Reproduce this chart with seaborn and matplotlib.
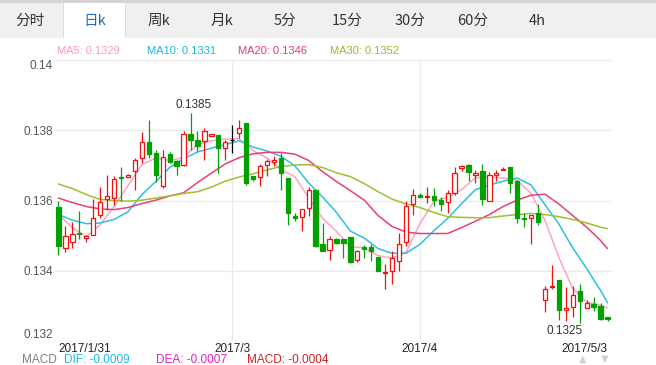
import matplotlib
matplotlib.use('Agg')
import matplotlib.pyplot as plt
import numpy as np
import pandas as pd
import seaborn as sns
from matplotlib.patches import Rectangle

# header tabs
tabs = ['分时', '日k', '周k', '月k', '5分', '15分', '30分', '60分', '4h']
active_tab = '日k'

# daily candles (index 0 = 2017/1/31 ... 79 = 2017/5/3)
opens = [0.13582, 0.13465, 0.13482, 0.13508, 0.13494, 0.13503, 0.13558, 0.13603, 0.13607, 0.13668,
         0.13668, 0.13683, 0.13721, 0.13767, 0.13735, 0.13640, 0.13731, 0.13712, 0.13700, 0.13789,
         0.13773, 0.13768, 0.13785, 0.13787, 0.13750, 0.13773, 0.13792, 0.13821, 0.13669, 0.13666,
         0.13702, 0.13709, 0.13721, 0.13664, 0.13555, 0.13553, 0.13579, 0.13631, 0.13477, 0.13458,
         0.13491, 0.13489, 0.13496, 0.13432, 0.13467, 0.13468, 0.13440, 0.13394, 0.13399, 0.13427,
         0.13481, 0.13590, 0.13615, 0.13610, 0.13614, 0.13601, 0.13596, 0.13622, 0.13693, 0.13702,
         0.13672, 0.13685, 0.13598, 0.13672, 0.13686, 0.13696, 0.13655, 0.13551, 0.13551, 0.13565,
         0.13318, 0.13353, 0.13373, 0.13288, 0.13297, 0.13342, 0.13294, 0.13304, 0.13299, 0.13268]
closes = [0.13470, 0.13498, 0.13505, 0.13505, 0.13498, 0.13551, 0.13596, 0.13614, 0.13662, 0.13664,
          0.13673, 0.13716, 0.13767, 0.13733, 0.13672, 0.13723, 0.13711, 0.13697, 0.13789, 0.13771,
          0.13756, 0.13799, 0.13786, 0.13750, 0.13767, 0.13773, 0.13805, 0.13650, 0.13662, 0.13699,
          0.13712, 0.13714, 0.13679, 0.13565, 0.13549, 0.13576, 0.13631, 0.13470, 0.13455, 0.13491,
          0.13479, 0.13479, 0.13424, 0.13455, 0.13463, 0.13457, 0.13399, 0.13397, 0.13437, 0.13477,
          0.13585, 0.13617, 0.13610, 0.13614, 0.13601, 0.13591, 0.13622, 0.13677, 0.13697, 0.13680,
          0.13679, 0.13605, 0.13674, 0.13677, 0.13691, 0.13650, 0.13551, 0.13548, 0.13560, 0.13538,
          0.13347, 0.13358, 0.13288, 0.13294, 0.13331, 0.13313, 0.13307, 0.13296, 0.13263, 0.13263]
highs = [0.13600, 0.13527, 0.13540, 0.13571, 0.13502, 0.13605, 0.13638, 0.13672, 0.13669, 0.13696,
         0.13676, 0.13721, 0.13794, 0.13830, 0.13745, 0.13745, 0.13739, 0.13716, 0.13799, 0.13850,
         0.13797, 0.13807, 0.13786, 0.13787, 0.13773, 0.13814, 0.13830, 0.13821, 0.13669, 0.13705,
         0.13718, 0.13726, 0.13735, 0.13664, 0.13565, 0.13577, 0.13639, 0.13631, 0.13536, 0.13498,
         0.13494, 0.13491, 0.13496, 0.13460, 0.13473, 0.13477, 0.13440, 0.13418, 0.13455, 0.13508,
         0.13598, 0.13633, 0.13620, 0.13639, 0.13636, 0.13610, 0.13629, 0.13696, 0.13702, 0.13705,
         0.13688, 0.13705, 0.13680, 0.13686, 0.13696, 0.13696, 0.13659, 0.13565, 0.13560, 0.13591,
         0.13358, 0.13415, 0.13375, 0.13354, 0.13356, 0.13361, 0.13316, 0.13326, 0.13309, 0.13268]
lows = [0.13446, 0.13454, 0.13466, 0.13489, 0.13483, 0.13503, 0.13551, 0.13574, 0.13588, 0.13598,
        0.13666, 0.13631, 0.13707, 0.13721, 0.13653, 0.13637, 0.13708, 0.13674, 0.13697, 0.13745,
        0.13740, 0.13716, 0.13785, 0.13679, 0.13714, 0.13735, 0.13778, 0.13645, 0.13655, 0.13640,
        0.13669, 0.13697, 0.13631, 0.13531, 0.13541, 0.13512, 0.13557, 0.13468, 0.13455, 0.13430,
        0.13477, 0.13437, 0.13422, 0.13424, 0.13437, 0.13429, 0.13398, 0.13347, 0.13361, 0.13399,
        0.13470, 0.13560, 0.13610, 0.13593, 0.13585, 0.13569, 0.13565, 0.13617, 0.13683, 0.13655,
        0.13650, 0.13588, 0.13598, 0.13655, 0.13686, 0.13622, 0.13536, 0.13524, 0.13476, 0.13530,
        0.13282, 0.13347, 0.13261, 0.13256, 0.13269, 0.13250, 0.13294, 0.13285, 0.13261, 0.13256]
doji_days = [25]

# moving averages, read every second day
ma_days = list(range(0, 79, 2)) + [79]
ma5 = [0.13560, 0.13523, 0.13497, 0.13531, 0.13583, 0.13642, 0.13702, 0.13721, 0.13714, 0.13722,
       0.13760, 0.13770, 0.13775, 0.13776, 0.13742, 0.13721, 0.13688, 0.13668, 0.13608, 0.13549,
       0.13512, 0.13469, 0.13465, 0.13443, 0.13436, 0.13452, 0.13534, 0.13597, 0.13610, 0.13631,
       0.13665, 0.13667, 0.13664, 0.13657, 0.13620, 0.13543, 0.13438, 0.13349, 0.13311, 0.13302, 0.13294]
ma10 = [0.13560, 0.13544, 0.13534, 0.13536, 0.13546, 0.13568, 0.13617, 0.13654, 0.13694, 0.13719,
        0.13738, 0.13749, 0.13759, 0.13770, 0.13752, 0.13741, 0.13726, 0.13699, 0.13650, 0.13610,
        0.13566, 0.13513, 0.13493, 0.13463, 0.13450, 0.13450, 0.13475, 0.13514, 0.13549, 0.13591,
        0.13631, 0.13644, 0.13655, 0.13664, 0.13644, 0.13588, 0.13533, 0.13465, 0.13406, 0.13344, 0.13309]
ma20 = [0.13607, 0.13594, 0.13583, 0.13576, 0.13574, 0.13580, 0.13591, 0.13601, 0.13613, 0.13622,
        0.13651, 0.13678, 0.13704, 0.13722, 0.13733, 0.13737, 0.13737, 0.13732, 0.13714, 0.13682,
        0.13654, 0.13628, 0.13601, 0.13557, 0.13526, 0.13510, 0.13506, 0.13506, 0.13506, 0.13523,
        0.13541, 0.13560, 0.13583, 0.13601, 0.13615, 0.13618, 0.13590, 0.13557, 0.13524, 0.13486, 0.13463]
ma30 = [0.13647, 0.13634, 0.13617, 0.13603, 0.13600, 0.13598, 0.13601, 0.13607, 0.13613, 0.13620,
        0.13625, 0.13638, 0.13655, 0.13667, 0.13676, 0.13687, 0.13697, 0.13701, 0.13702, 0.13694,
        0.13679, 0.13668, 0.13648, 0.13625, 0.13604, 0.13590, 0.13580, 0.13566, 0.13554, 0.13552,
        0.13551, 0.13551, 0.13556, 0.13560, 0.13563, 0.13560, 0.13554, 0.13546, 0.13536, 0.13524, 0.13520]

ma_names = ['MA5', 'MA10', 'MA20', 'MA30']
ma_last = ['0.1329', '0.1331', '0.1346', '0.1352']
ma_colors = ['#ffa3c2', '#2cc0e3', '#ea3f76', '#9dc22c']
ma_text_colors = ['#ff99bb', '#1fb8dd', '#ee3377', '#99bb22']

date_days = [0, 25, 52, 79]
date_labels = ['2017/1/31', '2017/3', '2017/4', '2017/5/3']
y_ticks = [0.132, 0.134, 0.136, 0.138, 0.14]

macd_items = ['MACD', 'DIF: -0.0009', 'DEA: -0.0007', 'MACD: -0.0004']
macd_colors = ['#808080', '#1fb8ee', '#e020c8', '#d02020']

sns.set_style('white')
plt.rcParams['font.family'] = ['Liberation Sans', 'Noto Sans CJK SC', 'DejaVu Sans']

W, H = 656, 365
fig = plt.figure(figsize=(W / 100, H / 100), dpi=100)

def px_rect(x, y, w, h, color, z=0):
    fig.add_artist(Rectangle((x / W, 1 - (y + h) / H), w / W, h / H,
                             transform=fig.transFigure, facecolor=color,
                             edgecolor='none', zorder=z))

# tab bar
px_rect(0, 0, W, 3, '#d5d5d5')
px_rect(0, 3, W, 35, '#f0f0f0')
px_rect(63, 3, 63, 35, '#ffffff', 1)
px_rect(63, 3, 1, 35, '#dcdcdc', 2)
px_rect(125, 3, 1, 35, '#dcdcdc', 2)
tab_x = [30, 95, 159, 222, 285, 347, 410, 473, 537]
for name, x in zip(tabs, tab_x):
    fig.text(x / W, 1 - 21 / H, name, ha='center', va='center', fontsize=10.5,
             family=['Noto Sans CJK SC', 'DejaVu Sans'],
             color='#1a6ec8' if name == active_tab else '#333333', zorder=3)

# MA legend
legend_x = [57, 147, 238, 330]
for nm, val, c, x in zip(ma_names, ma_last, ma_text_colors, legend_x):
    fig.text(x / W, 1 - 51 / H, f'{nm}: {val}', ha='left', va='center', fontsize=8, color=c)

# main axes
ax = fig.add_axes([55 / W, (H - 341) / H, (611 - 55) / W, (341 - 60) / H])

ma_df = pd.concat([pd.DataFrame({'day': ma_days, 'value': v, 'line': n})
                   for n, v in zip(ma_names, [ma5, ma10, ma20, ma30])])
sns.lineplot(data=ma_df, x='day', y='value', hue='line',
             palette=dict(zip(ma_names, ma_colors)), linewidth=1.1,
             legend=False, ax=ax, zorder=2)

days = np.arange(len(opens))
o = np.array(opens); c = np.array(closes)
h = np.array(highs); l = np.array(lows)
up = c >= o
body_w = 0.62
min_h = 0.00003
for i in days:
    if i in doji_days:
        ax.vlines(i, l[i], h[i], color='black', lw=0.9, zorder=3)
        ax.hlines(c[i], i - body_w / 2, i + body_w / 2, color='black', lw=0.9, zorder=3)
        continue
    col = '#f41010' if up[i] else '#02a102'
    ax.vlines(i, l[i], h[i], color=col, lw=0.9, zorder=3)
    bottom = min(o[i], c[i])
    height = max(abs(c[i] - o[i]), min_h)
    ax.bar(i, height, bottom=bottom, width=body_w,
           facecolor='white' if up[i] else col, edgecolor=col,
           linewidth=0.9, zorder=4)

ax.set_xlim(-0.5, 79.5)
ax.set_ylim(0.132, 0.14)
ax.set_yticks(y_ticks)
ax.set_yticklabels(['0.132', '0.134', '0.136', '0.138', '0.14'])
ax.grid(axis='y', color='#ebebeb', lw=1)
for d in date_days[1:3]:
    ax.axvline(d, color='#ebebeb', lw=1, zorder=0)
ax.set_xticks(date_days)
ax.set_xticklabels(date_labels)
ax.tick_params(axis='y', length=0, pad=1.5, labelsize=8.5, labelcolor='#555555')
ax.tick_params(axis='x', length=0, pad=1.5, labelsize=8.5, labelcolor='#222222')
ylabs = ax.get_yticklabels()
ylabs[0].set_va('bottom')
ylabs[-1].set_va('top')
xlabs = ax.get_xticklabels()
xlabs[0].set_ha('left')
xlabs[-1].set_ha('right')
for s in ax.spines.values():
    s.set_visible(False)
ax.set_xlabel('')
ax.set_ylabel('')

# extreme labels
hi_i = int(np.argmax(h)); lo_i = int(np.argmin(l))
ax.annotate(f'{h[hi_i]:.4f}', xy=(hi_i, h[hi_i]), xytext=(2, 1), textcoords='offset points',
            ha='center', va='bottom', fontsize=8.5, color='#333333')
ax.annotate(f'{l[lo_i]:.4f}', xy=(lo_i, l[lo_i]), xytext=(2, -1), textcoords='offset points',
            ha='right', va='top', fontsize=8.5, color='#333333')

# MACD row
macd_x = [22, 64, 156, 247]
for t, col, x in zip(macd_items, macd_colors, macd_x):
    fig.text(x / W, 1 - 360 / H, t, ha='left', va='center', fontsize=8.5, color=col)
fig.text(583 / W, 1 - 359 / H, '▲', ha='center', va='center', fontsize=7,
         color='#d0d0d0', family='DejaVu Sans')
fig.text(605 / W, 1 - 359 / H, '▼', ha='center', va='center', fontsize=7,
         color='#d0d0d0', family='DejaVu Sans')

fig.savefig('out.png', dpi=100)
